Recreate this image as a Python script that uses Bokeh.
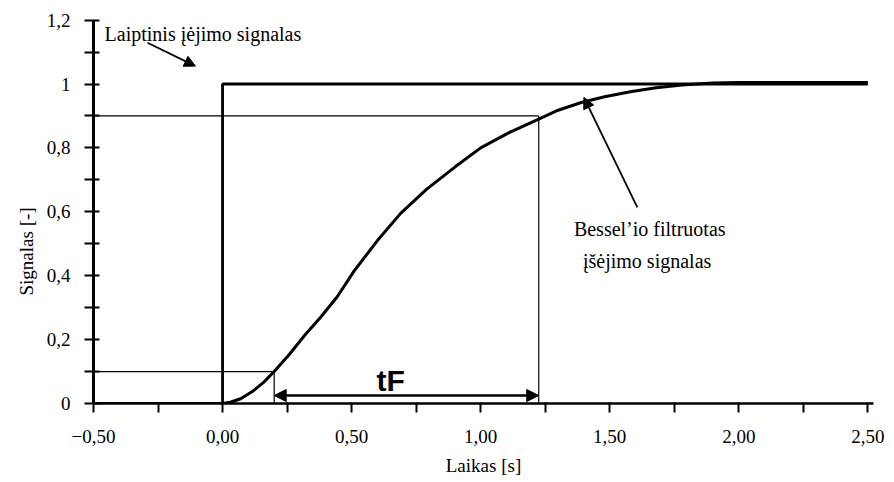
from bokeh.plotting import figure
from bokeh.models import FixedTicker, Range1d, Arrow, NormalHead, Title
from bokeh.core.properties import value
from bokeh.embed import file_html
from bokeh.resources import INLINE

# ---- data ----
x_ticks = [-0.5, 0.0, 0.5, 1.0, 1.5, 2.0, 2.5]
x_tick_labels = ["−0,50", "0,00", "0,50", "1,00", "1,50", "2,00", "2,50"]
x_minor = [-0.25, 0.25, 0.75, 1.25, 1.75, 2.25]
y_ticks = [0, 0.2, 0.4, 0.6, 0.8, 1, 1.2]
y_tick_labels = ["0", "0,2", "0,4", "0,6", "0,8", "1", "1,2"]
y_minor = [0.1, 0.3, 0.5, 0.7, 0.9, 1.1]

step_t = [-0.5, 0.0, 0.0, 2.5]
step_y = [0.0, 0.0, 1.0, 1.0]

out_t = [0.0, 0.03, 0.07, 0.12, 0.16, 0.2, 0.26, 0.32, 0.38, 0.445, 0.51, 0.6,
         0.69, 0.79, 0.9, 1.0, 1.11, 1.225, 1.3, 1.39, 1.48, 1.58, 1.68, 1.78,
         1.9, 2.0, 2.5]
out_y = [0.0, 0.004, 0.015, 0.04, 0.067, 0.10, 0.155, 0.215, 0.27, 0.335, 0.415,
         0.51, 0.595, 0.67, 0.74, 0.80, 0.848, 0.89, 0.918, 0.942, 0.96, 0.976,
         0.988, 0.997, 1.003, 1.005, 1.005]

t10, t90 = 0.2, 1.225
lev10, lev90 = 0.1, 0.9

SERIF = "Liberation Serif"

p = figure(width=890, height=481, output_backend="svg", toolbar_location=None,
           x_range=Range1d(-0.5, 2.522), y_range=Range1d(0, 1.2238),
           min_border_left=93, min_border_right=17, min_border_top=12,
           min_border_bottom=78)
p.outline_line_color = None
p.xgrid.visible = False
p.ygrid.visible = False

# x axis
xa = p.xaxis[0]
xa.ticker = FixedTicker(ticks=x_ticks, minor_ticks=x_minor)
xa.major_label_overrides = {t: l for t, l in zip(x_ticks, x_tick_labels)}
xa.axis_line_width = 2.5
xa.major_tick_line_width = 2
xa.minor_tick_line_width = 2
xa.major_tick_in = 1
xa.major_tick_out = 9
xa.minor_tick_in = 1
xa.minor_tick_out = 9
xa.major_label_standoff = 17
xa.major_label_text_font = SERIF
xa.major_label_text_font_size = "19px"
xa.major_label_text_color = "black"
xa.axis_label = "Laikas [s]"
xa.axis_label_standoff = 9
xa.axis_label_text_font = SERIF
xa.axis_label_text_font_size = "19px"
xa.axis_label_text_font_style = "normal"
xa.axis_label_text_color = "black"

# y axis
ya = p.yaxis[0]
ya.bounds = (0, 1.2)
ya.ticker = FixedTicker(ticks=y_ticks, minor_ticks=y_minor)
ya.major_label_overrides = {t: l for t, l in zip(y_ticks, y_tick_labels)}
ya.axis_line_width = 3
ya.major_tick_line_width = 2
ya.minor_tick_line_width = 2
ya.major_tick_in = 6
ya.major_tick_out = 9
ya.minor_tick_in = 6
ya.minor_tick_out = 9
ya.major_label_standoff = 14
ya.major_label_text_font = SERIF
ya.major_label_text_font_size = "19px"
ya.major_label_text_color = "black"

# y axis title, placed lower than centre as in the original
p.add_layout(Title(text="Signalas [-]", align="left", offset=108, standoff=14,
                   text_font=SERIF, text_font_size="19px",
                   text_font_style="normal", text_color="black"), "left")

# reference lines (thin)
p.line([-0.5, t90], [lev90, lev90], line_color="black", line_width=1.2)
p.line([t90, t90], [0, lev90], line_color="black", line_width=1.2)
p.line([-0.5, t10], [lev10, lev10], line_color="black", line_width=1.2)
p.line([t10, t10], [0, lev10], line_color="black", line_width=1.2)

# signals
p.line(step_t, step_y, line_color="black", line_width=2.8)
p.line(out_t, out_y, line_color="black", line_width=3)

# tF double arrow
p.add_layout(Arrow(x_start=t10, y_start=0.025, x_end=t90, y_end=0.025,
                   line_width=2.5, line_color="black",
                   start=NormalHead(size=12, fill_color="black", line_color="black"),
                   end=NormalHead(size=12, fill_color="black", line_color="black")))
p.text(x=[0.651], y=[0.072], text=["tF"], text_font=value("Liberation Sans"),
       text_font_style="bold", text_font_size="30px", text_align="center",
       text_baseline="alphabetic", text_color="black")

# annotations
p.text(x=[-0.457], y=[1.155], text=["Laiptinis įėjimo signalas"],
       text_font=value(SERIF), text_font_size="20px", text_align="left",
       text_baseline="alphabetic", text_color="black")
p.add_layout(Arrow(x_start=-0.291, y_start=1.129, x_end=-0.105, y_end=1.056,
                   line_width=1.8, line_color="black",
                   end=NormalHead(size=11, fill_color="black", line_color="black")))

p.text(x=[1.655, 1.645], y=[0.546, 0.447],
       text=["Bessel’io filtruotas", "įšėjimo signalas"],
       text_font=value(SERIF), text_font_size="20px", text_align="center",
       text_baseline="alphabetic", text_color="black")
p.add_layout(Arrow(x_start=1.607, y_start=0.614, x_end=1.400, y_end=0.958,
                   line_width=1.8, line_color="black",
                   end=NormalHead(size=11, fill_color="black", line_color="black")))

open("out.html", "w").write(file_html(p, INLINE))
